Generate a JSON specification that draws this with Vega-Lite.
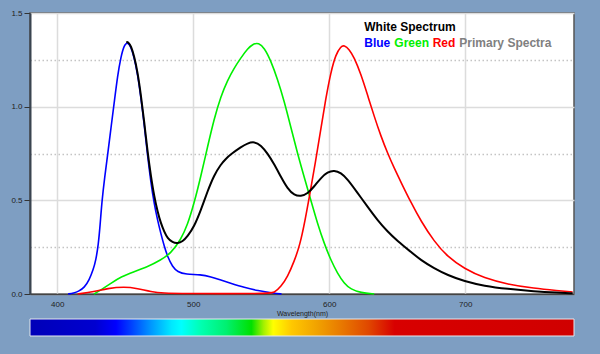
{
  "$schema": "https://vega.github.io/schema/vega-lite/v6.json",
  "background": "#7e9ec2",
  "padding": {"left": 10, "top": 8, "right": 27, "bottom": 19},
  "bounds": "flush",
  "spacing": 25,
  "config": {"font": "Liberation Sans", "view": {"stroke": null}},
  "datasets": {
    "spectra": [
      {"s": "Blue", "w": 408, "v": 0},
      {"s": "Blue", "w": 412, "v": 0.004},
      {"s": "Blue", "w": 416, "v": 0.015},
      {"s": "Blue", "w": 420, "v": 0.035},
      {"s": "Blue", "w": 423.5, "v": 0.074},
      {"s": "Blue", "w": 426.5, "v": 0.13},
      {"s": "Blue", "w": 428.4, "v": 0.18},
      {"s": "Blue", "w": 430.2, "v": 0.26},
      {"s": "Blue", "w": 431.6, "v": 0.37},
      {"s": "Blue", "w": 432.8, "v": 0.49},
      {"s": "Blue", "w": 435, "v": 0.63},
      {"s": "Blue", "w": 437.4, "v": 0.76},
      {"s": "Blue", "w": 439.6, "v": 0.89},
      {"s": "Blue", "w": 441.9, "v": 1.02},
      {"s": "Blue", "w": 444.4, "v": 1.165},
      {"s": "Blue", "w": 446.8, "v": 1.265},
      {"s": "Blue", "w": 449.3, "v": 1.33},
      {"s": "Blue", "w": 451.7, "v": 1.345},
      {"s": "Blue", "w": 454.2, "v": 1.32},
      {"s": "Blue", "w": 456.6, "v": 1.262},
      {"s": "Blue", "w": 459.1, "v": 1.174},
      {"s": "Blue", "w": 461.5, "v": 1.05},
      {"s": "Blue", "w": 464, "v": 0.905},
      {"s": "Blue", "w": 466.4, "v": 0.74},
      {"s": "Blue", "w": 468.9, "v": 0.595},
      {"s": "Blue", "w": 471.3, "v": 0.482},
      {"s": "Blue", "w": 473.8, "v": 0.394},
      {"s": "Blue", "w": 476.2, "v": 0.323},
      {"s": "Blue", "w": 478.7, "v": 0.255},
      {"s": "Blue", "w": 481.1, "v": 0.2},
      {"s": "Blue", "w": 484.8, "v": 0.145},
      {"s": "Blue", "w": 488.5, "v": 0.118},
      {"s": "Blue", "w": 494.6, "v": 0.105},
      {"s": "Blue", "w": 505.6, "v": 0.104},
      {"s": "Blue", "w": 513, "v": 0.092},
      {"s": "Blue", "w": 520.3, "v": 0.074},
      {"s": "Blue", "w": 527.7, "v": 0.057},
      {"s": "Blue", "w": 537.5, "v": 0.035},
      {"s": "Blue", "w": 547.3, "v": 0.018},
      {"s": "Blue", "w": 559.6, "v": 0.004},
      {"s": "Blue", "w": 565, "v": 0},
      {"s": "Green", "w": 427, "v": 0},
      {"s": "Green", "w": 432.1, "v": 0.021},
      {"s": "Green", "w": 439.5, "v": 0.057},
      {"s": "Green", "w": 446.8, "v": 0.092},
      {"s": "Green", "w": 456.6, "v": 0.119},
      {"s": "Green", "w": 466.4, "v": 0.145},
      {"s": "Green", "w": 476.2, "v": 0.181},
      {"s": "Green", "w": 483.6, "v": 0.218},
      {"s": "Green", "w": 490.9, "v": 0.29},
      {"s": "Green", "w": 495.8, "v": 0.368},
      {"s": "Green", "w": 500.7, "v": 0.485},
      {"s": "Green", "w": 505.6, "v": 0.628},
      {"s": "Green", "w": 510.5, "v": 0.784},
      {"s": "Green", "w": 515.4, "v": 0.935},
      {"s": "Green", "w": 520.3, "v": 1.055},
      {"s": "Green", "w": 525.2, "v": 1.14},
      {"s": "Green", "w": 530, "v": 1.205},
      {"s": "Green", "w": 535, "v": 1.26},
      {"s": "Green", "w": 540, "v": 1.31},
      {"s": "Green", "w": 544.5, "v": 1.337},
      {"s": "Green", "w": 548, "v": 1.34},
      {"s": "Green", "w": 552.2, "v": 1.316},
      {"s": "Green", "w": 557.1, "v": 1.245},
      {"s": "Green", "w": 562, "v": 1.147},
      {"s": "Green", "w": 566.9, "v": 1.03},
      {"s": "Green", "w": 571.8, "v": 0.89},
      {"s": "Green", "w": 576.7, "v": 0.75},
      {"s": "Green", "w": 581.6, "v": 0.624},
      {"s": "Green", "w": 586.5, "v": 0.5},
      {"s": "Green", "w": 591.4, "v": 0.376},
      {"s": "Green", "w": 596.3, "v": 0.27},
      {"s": "Green", "w": 601.2, "v": 0.181},
      {"s": "Green", "w": 606.1, "v": 0.11},
      {"s": "Green", "w": 611, "v": 0.057},
      {"s": "Green", "w": 615.9, "v": 0.025},
      {"s": "Green", "w": 623.3, "v": 0.007},
      {"s": "Green", "w": 633.1, "v": 0},
      {"s": "Red", "w": 415, "v": 0},
      {"s": "Red", "w": 427.2, "v": 0.012},
      {"s": "Red", "w": 437, "v": 0.03},
      {"s": "Red", "w": 449.3, "v": 0.039},
      {"s": "Red", "w": 459.1, "v": 0.03},
      {"s": "Red", "w": 468.9, "v": 0.012},
      {"s": "Red", "w": 478.7, "v": 0.004},
      {"s": "Red", "w": 490, "v": 0.002},
      {"s": "Red", "w": 555, "v": 0.002},
      {"s": "Red", "w": 559.6, "v": 0.006},
      {"s": "Red", "w": 564.5, "v": 0.039},
      {"s": "Red", "w": 569.4, "v": 0.092},
      {"s": "Red", "w": 574.3, "v": 0.175},
      {"s": "Red", "w": 578.4, "v": 0.26},
      {"s": "Red", "w": 582.2, "v": 0.39},
      {"s": "Red", "w": 585.9, "v": 0.54},
      {"s": "Red", "w": 589.8, "v": 0.7},
      {"s": "Red", "w": 593.6, "v": 0.87},
      {"s": "Red", "w": 597.4, "v": 1.04},
      {"s": "Red", "w": 601.2, "v": 1.185},
      {"s": "Red", "w": 604.9, "v": 1.28},
      {"s": "Red", "w": 608.6, "v": 1.322},
      {"s": "Red", "w": 611, "v": 1.328},
      {"s": "Red", "w": 614.7, "v": 1.307},
      {"s": "Red", "w": 618.4, "v": 1.262},
      {"s": "Red", "w": 623.3, "v": 1.174},
      {"s": "Red", "w": 628.2, "v": 1.062},
      {"s": "Red", "w": 633.1, "v": 0.948},
      {"s": "Red", "w": 638, "v": 0.843},
      {"s": "Red", "w": 642.9, "v": 0.752},
      {"s": "Red", "w": 647.8, "v": 0.672},
      {"s": "Red", "w": 652.7, "v": 0.598},
      {"s": "Red", "w": 660, "v": 0.49},
      {"s": "Red", "w": 667.4, "v": 0.39},
      {"s": "Red", "w": 677.2, "v": 0.28},
      {"s": "Red", "w": 687, "v": 0.199},
      {"s": "Red", "w": 699.3, "v": 0.135},
      {"s": "Red", "w": 714, "v": 0.085},
      {"s": "Red", "w": 731.1, "v": 0.052},
      {"s": "Red", "w": 750.7, "v": 0.03},
      {"s": "Red", "w": 767.9, "v": 0.018},
      {"s": "Red", "w": 779, "v": 0.011},
      {"s": "White", "w": 450.8, "v": 1.345},
      {"s": "White", "w": 452.5, "v": 1.343},
      {"s": "White", "w": 454.2, "v": 1.325},
      {"s": "White", "w": 456.6, "v": 1.27},
      {"s": "White", "w": 459.1, "v": 1.185},
      {"s": "White", "w": 461.5, "v": 1.065},
      {"s": "White", "w": 464, "v": 0.92},
      {"s": "White", "w": 466.4, "v": 0.76},
      {"s": "White", "w": 468.9, "v": 0.63},
      {"s": "White", "w": 471.3, "v": 0.522},
      {"s": "White", "w": 473.8, "v": 0.44},
      {"s": "White", "w": 476.2, "v": 0.378},
      {"s": "White", "w": 478.7, "v": 0.333},
      {"s": "White", "w": 481.1, "v": 0.298},
      {"s": "White", "w": 484.8, "v": 0.275},
      {"s": "White", "w": 488.5, "v": 0.27},
      {"s": "White", "w": 492.2, "v": 0.28},
      {"s": "White", "w": 495.8, "v": 0.307},
      {"s": "White", "w": 500.7, "v": 0.36},
      {"s": "White", "w": 505.6, "v": 0.447},
      {"s": "White", "w": 510.5, "v": 0.548},
      {"s": "White", "w": 515.4, "v": 0.635},
      {"s": "White", "w": 520.3, "v": 0.692},
      {"s": "White", "w": 524, "v": 0.722},
      {"s": "White", "w": 527.7, "v": 0.746},
      {"s": "White", "w": 535, "v": 0.784},
      {"s": "White", "w": 540, "v": 0.805},
      {"s": "White", "w": 544.9, "v": 0.814},
      {"s": "White", "w": 549.8, "v": 0.795},
      {"s": "White", "w": 554.7, "v": 0.75},
      {"s": "White", "w": 559.6, "v": 0.693},
      {"s": "White", "w": 564.5, "v": 0.625},
      {"s": "White", "w": 569.4, "v": 0.562},
      {"s": "White", "w": 574.3, "v": 0.527},
      {"s": "White", "w": 579.2, "v": 0.521},
      {"s": "White", "w": 584, "v": 0.535},
      {"s": "White", "w": 589, "v": 0.574},
      {"s": "White", "w": 593.9, "v": 0.62},
      {"s": "White", "w": 598.8, "v": 0.651},
      {"s": "White", "w": 603.7, "v": 0.66},
      {"s": "White", "w": 608.6, "v": 0.647},
      {"s": "White", "w": 613.5, "v": 0.613},
      {"s": "White", "w": 620.8, "v": 0.54},
      {"s": "White", "w": 628.2, "v": 0.466},
      {"s": "White", "w": 635.5, "v": 0.394},
      {"s": "White", "w": 642.9, "v": 0.333},
      {"s": "White", "w": 650.2, "v": 0.283},
      {"s": "White", "w": 660, "v": 0.225},
      {"s": "White", "w": 667.4, "v": 0.181},
      {"s": "White", "w": 677.2, "v": 0.137},
      {"s": "White", "w": 687, "v": 0.101},
      {"s": "White", "w": 699.3, "v": 0.068},
      {"s": "White", "w": 714, "v": 0.043},
      {"s": "White", "w": 731.1, "v": 0.027},
      {"s": "White", "w": 750.7, "v": 0.014},
      {"s": "White", "w": 767.9, "v": 0.007},
      {"s": "White", "w": 779, "v": 0.004}
    ],
    "labels": [
      {"s": "White", "text": "White Spectrum", "w": 625.8, "v": 1.403},
      {"s": "Blue", "text": "Blue", "w": 625.8, "v": 1.321},
      {"s": "Green", "text": "Green", "w": 647.9, "v": 1.321},
      {"s": "Red", "text": "Red", "w": 676.1, "v": 1.321},
      {"s": "Primary", "text": "Primary Spectra", "w": 695.7, "v": 1.321}
    ],
    "bar": [
      {"from": 380, "to": 780}
    ]
  },
  "vconcat": [
    {
      "width": 544,
      "height": 281,
      "view": {"fill": "#ffffff", "stroke": "#555555", "strokeWidth": 1.5},
      "encoding": {
        "x": {
          "field": "w", "type": "quantitative",
          "scale": {"domain": [380, 780], "nice": false, "zero": false},
          "axis": {
            "values": [400, 500, 600, 700],
            "title": "Wavelength(nm)",
            "titleFontSize": 7, "titleFontWeight": "normal", "titleColor": "#222222", "titlePadding": 1,
            "labelFontSize": 8, "labelColor": "#222222", "labelPadding": 6, "labelFlush": false,
            "ticks": false,
            "domainColor": "#444444", "domainWidth": 1.5,
            "gridColor": "#dcdcdc", "gridWidth": 1.5
          }
        },
        "y": {
          "field": "v", "type": "quantitative",
          "scale": {"domain": [0, 1.5], "nice": false},
          "axis": {
            "values": [0, 0.25, 0.5, 0.75, 1, 1.25, 1.5],
            "title": null,
            "labelExpr": "datum.value % 0.5 === 0 ? format(datum.value, '.1f') : ''",
            "labelFontSize": 8, "labelColor": "#222222", "labelPadding": 2, "labelFlush": false,
            "tickSize": 6, "tickColor": "#333333",
            "tickOpacity": {"condition": {"test": "datum.value % 0.5 !== 0", "value": 0}, "value": 1},
            "gridDash": {"condition": {"test": "datum.value % 0.5 !== 0", "value": [1.5, 2.5]}, "value": []},
            "gridColor": {"condition": {"test": "datum.value % 0.5 !== 0", "value": "#c4c4c4"}, "value": "#dcdcdc"},
            "gridWidth": 1.5,
            "domainColor": "#3a4450", "domainWidth": 2
          }
        },
        "color": {
          "field": "s", "type": "nominal", "legend": null,
          "scale": {
            "domain": ["White", "Blue", "Green", "Red", "Primary"],
            "range": ["#000000", "#0000ff", "#00f000", "#ff0000", "#808080"]
          }
        }
      },
      "layer": [
        {
          "data": {"name": "spectra"},
          "transform": [{"filter": "datum.s !== 'White'"}],
          "mark": {"type": "line", "strokeWidth": 1.6, "interpolate": "basis"},
          "encoding": {"order": {"field": "w", "type": "quantitative"}}
        },
        {
          "data": {"name": "spectra"},
          "transform": [{"filter": "datum.s === 'White'"}],
          "mark": {"type": "line", "strokeWidth": 2, "interpolate": "basis"},
          "encoding": {"order": {"field": "w", "type": "quantitative"}}
        },
        {
          "data": {"name": "labels"},
          "mark": {"type": "text", "align": "left", "baseline": "alphabetic", "fontSize": 12, "fontWeight": "bold"},
          "encoding": {"text": {"field": "text", "type": "nominal"}}
        }
      ]
    },
    {
      "width": 544,
      "height": 17,
      "data": {"name": "bar"},
      "mark": {
        "type": "rect",
        "fill": {
          "gradient": "linear", "x1": 0, "y1": 0, "x2": 1, "y2": 0,
          "stops": [
            {"offset": 0, "color": "#0000b8"},
            {"offset": 0.12, "color": "#0000d0"},
            {"offset": 0.158, "color": "#0000ff"},
            {"offset": 0.186, "color": "#0040ff"},
            {"offset": 0.223, "color": "#0098ff"},
            {"offset": 0.26, "color": "#00e8ff"},
            {"offset": 0.278, "color": "#00ffff"},
            {"offset": 0.315, "color": "#00ffb0"},
            {"offset": 0.361, "color": "#00f070"},
            {"offset": 0.407, "color": "#00e000"},
            {"offset": 0.429, "color": "#a0f000"},
            {"offset": 0.447, "color": "#ffff00"},
            {"offset": 0.481, "color": "#ffc800"},
            {"offset": 0.53, "color": "#f0a000"},
            {"offset": 0.573, "color": "#e87800"},
            {"offset": 0.622, "color": "#e04800"},
            {"offset": 0.67, "color": "#d80000"},
            {"offset": 1, "color": "#d00000"}
          ]
        },
        "stroke": "#e4e8ee",
        "strokeWidth": 1
      },
      "encoding": {
        "x": {"field": "from", "type": "quantitative", "scale": {"domain": [380, 780], "nice": false, "zero": false}, "axis": null},
        "x2": {"field": "to"}
      }
    }
  ]
}
